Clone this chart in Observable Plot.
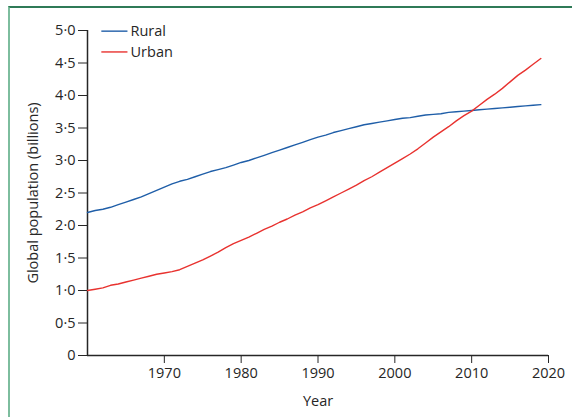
<!DOCTYPE html>
<html>
<head>
<meta charset="utf-8">
<script src="https://cdn.jsdelivr.net/npm/d3@7"></script>
<script src="https://cdn.jsdelivr.net/npm/@observablehq/plot@0.6"></script>
<style>
  html, body { margin: 0; padding: 0; background: #fff; }
  #wrap { position: relative; width: 572px; height: 417px; overflow: hidden; }
  #border { position: absolute; left: 8px; top: 6px; right: 0; bottom: 0;
            border-top: 2px solid #2f7a57; border-left: 2px solid #7dbd9e; }
  #chart { position: absolute; left: 0; top: 0; }
</style>
</head>
<body>
<div id="wrap"><div id="border"></div><div id="chart"></div></div>
<script>
const years = d3.range(1960, 2020);
const rural = [2.20,2.23,2.25,2.28,2.32,2.36,2.40,2.44,2.49,2.54,
               2.59,2.64,2.68,2.71,2.75,2.79,2.83,2.86,2.89,2.93,
               2.97,3.00,3.04,3.08,3.12,3.16,3.20,3.24,3.28,3.32,
               3.36,3.39,3.43,3.46,3.49,3.52,3.55,3.57,3.59,3.61,
               3.63,3.65,3.66,3.68,3.70,3.71,3.72,3.74,3.75,3.76,
               3.77,3.78,3.79,3.80,3.81,3.82,3.83,3.84,3.85,3.86];
const urban = [1.00,1.02,1.04,1.08,1.10,1.13,1.16,1.19,1.22,1.25,
               1.27,1.29,1.32,1.37,1.42,1.47,1.53,1.59,1.66,1.72,
               1.77,1.82,1.88,1.94,1.99,2.05,2.10,2.16,2.21,2.27,
               2.32,2.38,2.44,2.50,2.56,2.62,2.69,2.75,2.82,2.89,
               2.96,3.03,3.10,3.18,3.27,3.36,3.44,3.52,3.61,3.69,
               3.76,3.85,3.94,4.02,4.11,4.21,4.31,4.39,4.48,4.57];
const seriesNames = ["Rural", "Urban"];
const seriesColors = ["#1f5ea8", "#e8322f"];
const xTicks = [1970, 1980, 1990, 2000, 2010, 2020];
const yTicks = [0, 0.5, 1, 1.5, 2, 2.5, 3, 3.5, 4, 4.5, 5];
const xLabel = "Year";
const yLabel = "Global population (billions)";

const data = [];
years.forEach((y, i) => {
  data.push({year: y, value: rural[i], series: "Rural"});
  data.push({year: y, value: urban[i], series: "Urban"});
});
const legend = seriesNames.map((s, i) => ({series: s, y: 4.99 - i * 0.32}));

const fmt = d => d === 0 ? "0" : d.toFixed(1).replace(".", "\u00B7");
const ink = "#262626";

const chart = Plot.plot({
  width: 572, height: 417,
  marginLeft: 87, marginRight: 24, marginTop: 30, marginBottom: 62,
  style: {fontFamily: "'Open Sans', sans-serif", fontSize: "14.5px", color: ink, background: "transparent"},
  x: {domain: [1960, 2020]},
  y: {domain: [0, 5]},
  color: {domain: seriesNames, range: seriesColors},
  marks: [
    Plot.axisY({ticks: yTicks, tickFormat: fmt, tickSize: 9, tickPadding: 3, label: yLabel,
      labelAnchor: "center", labelArrow: "none", labelOffset: 60, fontSize: 14.5, stroke: ink}),
    Plot.axisX({ticks: xTicks, tickFormat: d => String(d), tickSize: 8, tickPadding: 4, label: xLabel,
      labelAnchor: "center", labelArrow: "none", labelOffset: 50, fontSize: 14.5, stroke: ink}),
    Plot.ruleY([0], {stroke: ink, strokeWidth: 1.5}),
    Plot.ruleX([1960], {stroke: ink, strokeWidth: 1.5}),
    Plot.line(data, {x: "year", y: "value", z: "series", stroke: "series", strokeWidth: 1.4}),
    Plot.link(legend, {x1: 1961.8, x2: 1965.2, y1: "y", y2: "y", stroke: "series", strokeWidth: 1.4}),
    Plot.text(legend, {x: 1965.6, y: "y", text: "series", textAnchor: "start", fontSize: 14.5, fill: ink})
  ]
});
document.getElementById("chart").appendChild(chart);
</script>
</body>
</html>
